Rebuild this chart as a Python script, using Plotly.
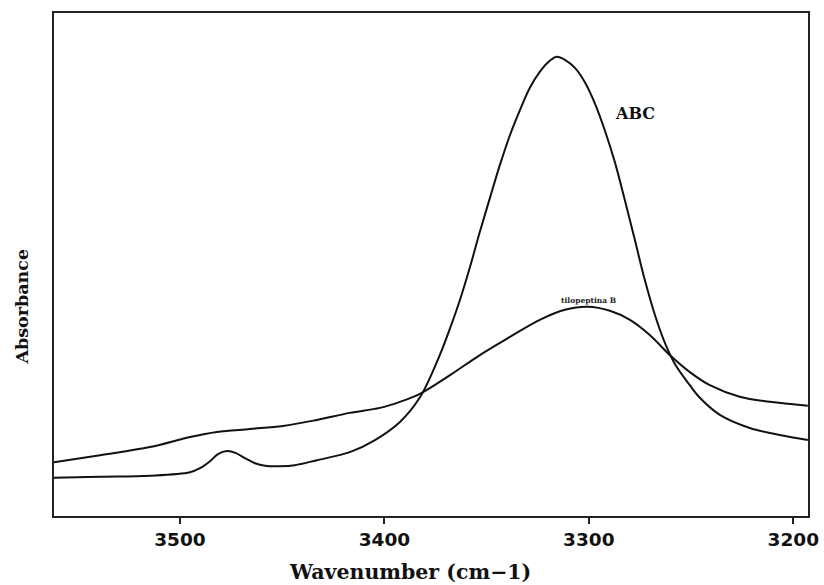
import plotly.graph_objects as go

# IR spectra in the N-H / O-H stretching region (absorbance in arbitrary units)
wn_abc = [3561.6, 3539.1, 3514.7, 3495.1, 3490.2, 3485.3, 3481.4, 3477.0, 3472.6,
          3468.2, 3463.3, 3458.4, 3451.1, 3443.8, 3433.0, 3416.9, 3404.6, 3392.4,
          3382.6, 3372.9, 3368.0, 3363.1, 3358.2, 3353.3, 3348.4, 3343.5, 3338.6,
          3333.7, 3328.9, 3324.0, 3319.1, 3315.7, 3311.7, 3306.8, 3302.0, 3297.1,
          3292.2, 3287.3, 3282.4, 3277.5, 3272.6, 3267.7, 3262.8, 3257.9, 3250.6,
          3245.7, 3235.9, 3221.3, 3206.6, 3192.9]
abs_abc = [0.076, 0.078, 0.080, 0.087, 0.095, 0.109, 0.123, 0.129, 0.125,
           0.115, 0.105, 0.100, 0.099, 0.101, 0.111, 0.127, 0.151, 0.187,
           0.236, 0.320, 0.372, 0.429, 0.494, 0.565, 0.632, 0.698, 0.757,
           0.807, 0.851, 0.883, 0.905, 0.913, 0.907, 0.891, 0.863, 0.821,
           0.767, 0.704, 0.628, 0.549, 0.469, 0.400, 0.344, 0.302, 0.260,
           0.235, 0.201, 0.175, 0.161, 0.151]

wn_tilo = [3561.6, 3539.1, 3514.7, 3495.1, 3481.9, 3465.8, 3449.6, 3433.0, 3416.9,
           3402.2, 3392.4, 3382.6, 3367.9, 3353.3, 3338.6, 3324.0, 3311.7, 3300.5,
           3289.7, 3279.9, 3270.2, 3260.4, 3250.6, 3240.8, 3226.2, 3211.5, 3192.9]
abs_tilo = [0.107, 0.121, 0.137, 0.157, 0.167, 0.173, 0.179, 0.191, 0.205,
            0.215, 0.227, 0.243, 0.280, 0.320, 0.356, 0.390, 0.410, 0.416,
            0.408, 0.390, 0.360, 0.320, 0.286, 0.260, 0.237, 0.227, 0.219]

x_ticks = [3500, 3400, 3300, 3200]
x_range = [3561.6, 3192.8]

serif = "DejaVu Serif"
line_style = dict(color="#111111", width=2, shape="spline", smoothing=1.0)

fig = go.Figure()
fig.add_trace(go.Scatter(x=wn_abc, y=abs_abc, mode="lines", line=line_style,
                         name="ABC", showlegend=False, hoverinfo="skip"))
fig.add_trace(go.Scatter(x=wn_tilo, y=abs_tilo, mode="lines", line=line_style,
                         name="tilopeptina B", showlegend=False, hoverinfo="skip"))

# Curve labels
fig.add_annotation(x=3277.5, y=0.8, xref="x", yref="y", text="<b>ABC</b>",
                   showarrow=False, font=dict(family=serif, size=16, color="#111111"))
fig.add_annotation(x=3300, y=0.429, xref="x", yref="y", text="<b>tilopeptina B</b>",
                   showarrow=False, font=dict(family=serif, size=7.5, color="#222222"))

# Axis titles
fig.add_annotation(x=0.472, y=-0.112, xref="paper", yref="paper",
                   xanchor="center", yanchor="middle",
                   text="<b>Wavenumber (cm\u22121)</b>", showarrow=False,
                   font=dict(family=serif, size=20.5, color="#111111"))
fig.add_annotation(x=-0.043, y=0.4155, xref="paper", yref="paper",
                   xanchor="center", yanchor="middle",
                   text="<b>Absorbance</b>", showarrow=False, textangle=-90,
                   font=dict(family=serif, size=17.5, color="#111111"))

fig.update_xaxes(range=x_range, tickvals=x_ticks,
                 ticktext=["<b>%d</b>" % t for t in x_ticks],
                 ticks="outside", ticklen=6, tickwidth=1.5, tickcolor="#222222",
                 showline=True, linecolor="#222222", linewidth=2, mirror=True,
                 showgrid=False, zeroline=False, automargin=False,
                 tickfont=dict(family="DejaVu Sans", size=18.5, color="#111111"))
fig.update_yaxes(range=[0, 1], showticklabels=False, ticks="",
                 showline=True, linecolor="#222222", linewidth=2, mirror=True,
                 showgrid=False, zeroline=False, automargin=False)

fig.update_layout(width=824, height=585,
                  margin=dict(l=54, r=16, t=13, b=69, autoexpand=False),
                  paper_bgcolor="white", plot_bgcolor="white")

fig.write_html("out.html")
